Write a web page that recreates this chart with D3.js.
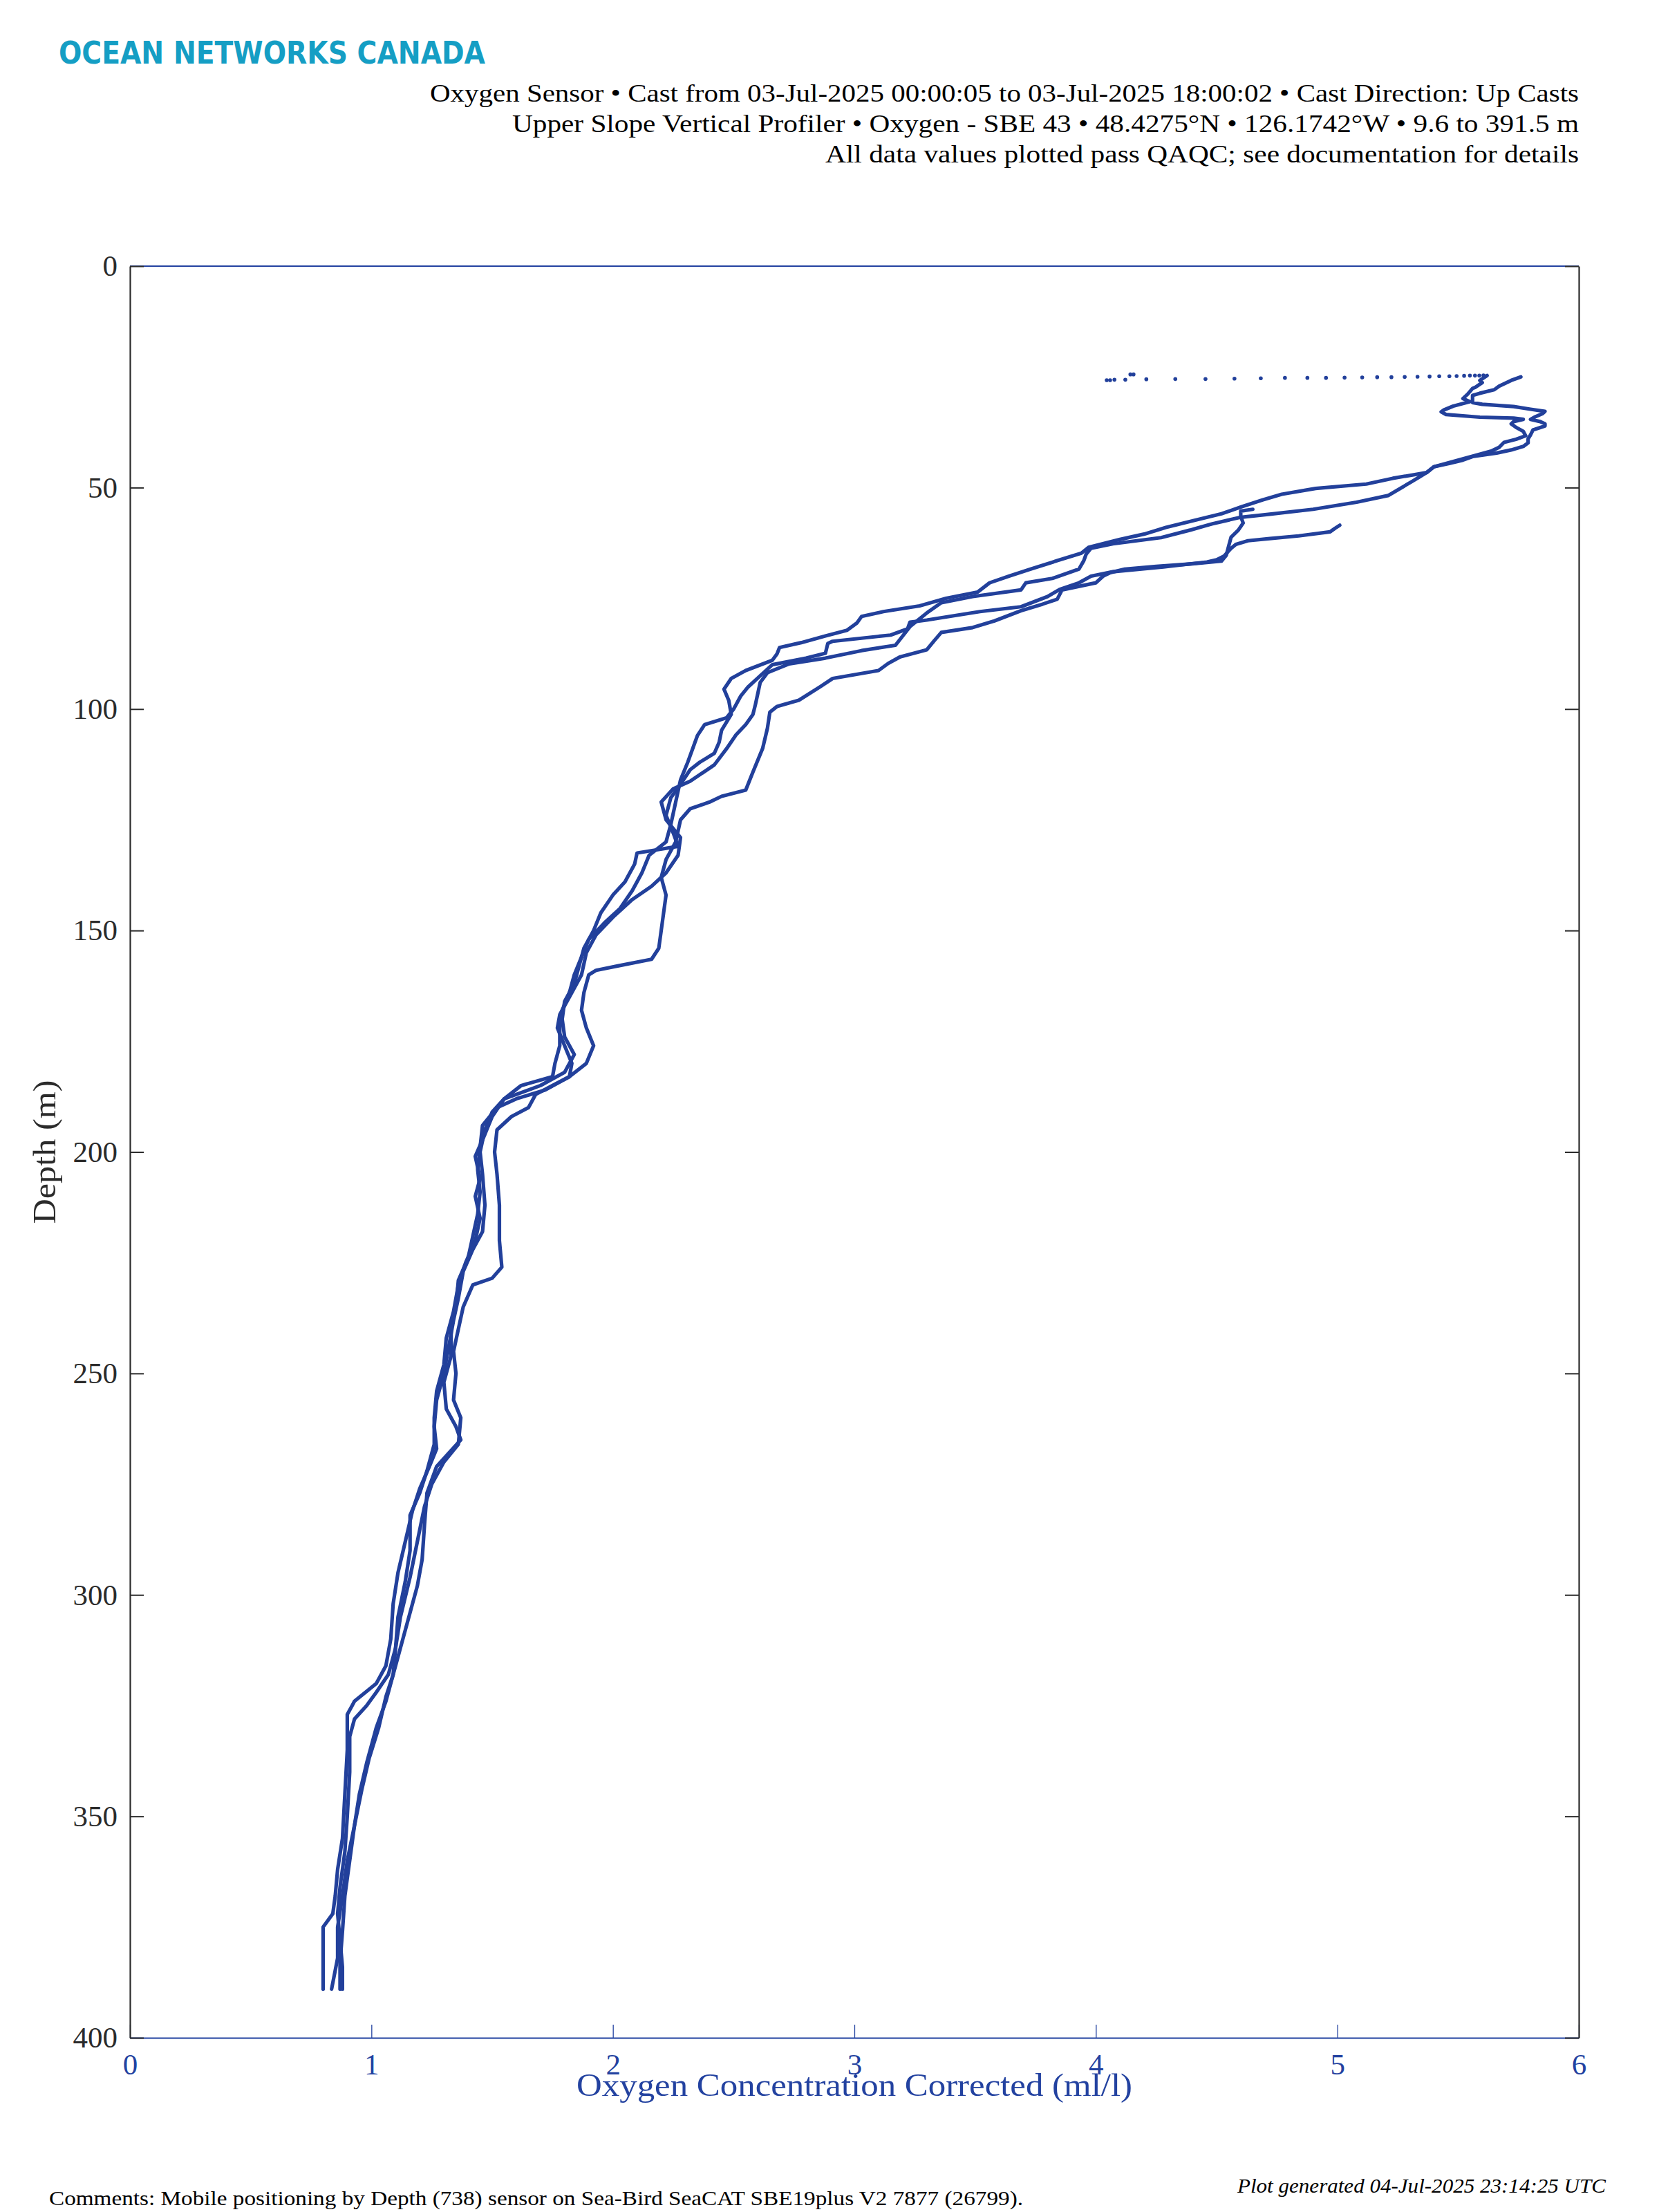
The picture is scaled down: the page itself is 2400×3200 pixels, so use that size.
<!DOCTYPE html>
<html><head><meta charset="utf-8">
<script src="https://cdn.jsdelivr.net/npm/d3@7"></script>
<style>body{margin:0;background:#fff}</style>
</head><body>
<script>
// ---------- DATA ----------
const depthTicks = [0, 50, 100, 150, 200, 250, 300, 350, 400];
const oxygenTicks = [0, 1, 2, 3, 4, 5, 6];

const titleLines = [
  "Oxygen Sensor \u2022 Cast from 03-Jul-2025 00:00:05 to 03-Jul-2025 18:00:02 \u2022 Cast Direction: Up Casts",
  "Upper Slope Vertical Profiler \u2022 Oxygen - SBE 43 \u2022 48.4275\u00B0N \u2022 126.1742\u00B0W \u2022 9.6 to 391.5 m",
  "All data values plotted pass QAQC; see documentation for details"
];

// casts: [depth (m), oxygen (ml/l)]
const cast1 = [[25.0,5.76],[25.8,5.72],[27.1,5.67],[27.9,5.65],[28.7,5.59],[29.2,5.56],[30.3,5.56],[30.8,5.56],[31.2,5.60],[31.7,5.73],[32.3,5.80],[32.8,5.86],[33.3,5.85],[34.0,5.82],[34.6,5.80],[35.1,5.84],[35.6,5.86],[36.1,5.86],[37.0,5.81],[38.1,5.80],[39.0,5.79],[39.9,5.79],[40.7,5.77],[41.5,5.72],[42.2,5.66],[43.0,5.56],[43.8,5.52],[44.6,5.46],[45.3,5.40],[46.6,5.37],[47.9,5.23],[49.2,5.12],[50.2,4.91],[51.5,4.77],[52.8,4.69],[54.4,4.60],[55.9,4.52],[57.5,4.40],[59.0,4.29],[60.5,4.20],[61.7,4.10],[63.5,3.97],[64.8,3.94],[66.5,3.84],[68.4,3.73],[70.0,3.64],[71.5,3.56],[73.6,3.51],[75.0,3.38],[76.7,3.27],[78.0,3.12],[79.1,3.03],[80.6,3.01],[82.2,2.97],[83.5,2.88],[85.0,2.78],[86.1,2.69],[87.5,2.68],[89.0,2.66],[91.3,2.55],[93.1,2.49],[95.5,2.46],[98.1,2.48],[101.2,2.49],[104.8,2.45],[107.5,2.44],[110.0,2.42],[112.0,2.36],[113.7,2.32],[117,2.28],[120,2.24],[124,2.22],[128,2.25],[131,2.27],[131.8,2.18],[132.5,2.10],[135,2.09],[139,2.05],[142,2.00],[146,1.95],[150,1.92],[154,1.88],[158,1.86],[162,1.84],[166,1.80],[170,1.79],[174,1.80],[178,1.84],[182,1.80],[185,1.70],[188,1.55],[191,1.50],[195,1.47],[200,1.45],[205,1.46],[212,1.47],[218,1.46],[222,1.42],[227,1.38],[233,1.36],[238,1.34],[244,1.32],[250,1.30],[256,1.27],[262,1.26],[267,1.27],[271,1.24],[276,1.20],[281,1.17],[288,1.14],[295,1.11],[302,1.09],[310,1.08],[316,1.06],[320,1.02],[324,0.93],[327,0.90],[335,0.90],[345,0.89],[355,0.88],[362,0.86],[368,0.85],[372,0.84],[375,0.80],[380,0.80],[389,0.80]];

const cast2 = [[24.7,5.62],[25.8,5.59],[26.3,5.60],[27.4,5.57],[27.6,5.56],[28.9,5.54],[29.9,5.52],[30.6,5.55],[31.6,5.48],[32.5,5.44],[32.9,5.43],[33.5,5.45],[34.1,5.59],[34.3,5.73],[34.6,5.77],[35.1,5.73],[35.6,5.72],[36.4,5.74],[37.3,5.77],[38.3,5.78],[39.1,5.74],[39.8,5.69],[40.9,5.67],[41.7,5.64],[42.6,5.58],[43.5,5.52],[44.4,5.46],[45.3,5.40],[46.6,5.37],[47.6,5.34],[48.6,5.31],[50.2,5.26],[51.8,5.21],[53.3,5.08],[54.9,4.90],[56.0,4.72],[56.7,4.60],[58.2,4.48],[59.6,4.39],[61.3,4.27],[62.7,4.07],[63.7,3.98],[65.0,3.96],[66.5,3.95],[68.4,3.93],[70.5,3.82],[71.5,3.71],[73.1,3.69],[74.6,3.49],[76.0,3.36],[78.3,3.30],[81.4,3.23],[85.6,3.17],[86.8,3.03],[88.5,2.88],[89.8,2.73],[91.8,2.64],[94.0,2.61],[96.5,2.60],[99.0,2.59],[101.2,2.58],[103.5,2.55],[105.8,2.51],[109.0,2.47],[112.6,2.42],[116.3,2.32],[118,2.25],[121,2.20],[125,2.22],[129,2.28],[133,2.27],[137,2.22],[140,2.16],[143,2.08],[147,2.00],[151,1.93],[155,1.89],[160,1.87],[165,1.82],[169,1.78],[172,1.77],[176,1.80],[180,1.83],[183,1.82],[186,1.72],[188,1.60],[190,1.52],[194,1.46],[199,1.45],[204,1.44],[209,1.45],[214,1.44],[219,1.42],[224,1.40],[229,1.36],[235,1.35],[240,1.33],[246,1.33],[252,1.30],[258,1.31],[262,1.35],[265,1.37],[268,1.32],[271,1.27],[277,1.23],[284,1.22],[292,1.21],[298,1.19],[304,1.16],[312,1.12],[318,1.09],[323,1.06],[330,1.03],[337,0.99],[344,0.96],[352,0.93],[360,0.90],[368,0.88],[375,0.86],[382,0.86],[389,0.835]];

const cast3 = [[54.9,4.65],[55.3,4.60],[56.5,4.60],[58.0,4.61],[59.6,4.59],[61.2,4.56],[63.2,4.55],[65.3,4.54],[66.6,4.52],[67.2,4.40],[67.8,4.25],[68.4,4.12],[69.2,4.06],[70.0,4.03],[71.5,4.00],[73.1,3.86],[75.2,3.84],[76.3,3.78],[77.8,3.69],[80.1,3.58],[81.6,3.49],[82.7,3.36],[84.6,3.33],[86.6,3.30],[88.2,3.19],[89.7,3.14],[91.3,3.10],[93.1,2.91],[94.9,2.86],[98.0,2.77],[99.4,2.68],[100.7,2.65],[104.3,2.64],[108.9,2.62],[114.2,2.58],[118.3,2.55],[119.7,2.45],[121.0,2.40],[122.5,2.32],[125,2.28],[130,2.26],[134,2.22],[138,2.20],[142,2.22],[146,2.21],[150,2.20],[154,2.19],[156.5,2.16],[158,2.02],[159,1.93],[160,1.90],[164,1.88],[168,1.87],[172,1.89],[176,1.92],[180,1.89],[183,1.82],[185,1.75],[187,1.68],[190,1.65],[192,1.58],[195,1.52],[200,1.51],[205,1.52],[212,1.53],[220,1.53],[226,1.54],[228.5,1.50],[230,1.42],[235,1.38],[240,1.36],[245,1.34],[250,1.35],[256,1.34],[260,1.37],[266,1.36],[270,1.30],[275,1.25],[280,1.22],[288,1.19],[296,1.16],[305,1.12],[312,1.10],[318,1.09],[324,1.06],[330,1.02],[338,0.98],[345,0.95],[352,0.93],[360,0.91],[368,0.89],[376,0.88],[383,0.87],[389,0.87]];

const cast4 = [[58.5,5.01],[59.2,4.99],[60.0,4.97],[60.9,4.84],[61.5,4.72],[62.0,4.63],[62.8,4.58],[63.7,4.56],[65.5,4.53],[66.3,4.50],[66.8,4.46],[67.9,4.28],[69.0,4.07],[70.0,3.98],[71.5,3.93],[73.0,3.85],[74.6,3.80],[76.9,3.69],[78.0,3.52],[79.9,3.30],[80.4,3.23],[81.9,3.22],[83.3,3.15],[84.7,2.91],[85.2,2.89],[87.4,2.88],[88.5,2.80],[90,2.66],[93,2.60],[95,2.56],[97,2.53],[100,2.50],[102,2.47],[103.5,2.38],[106,2.35],[109,2.33],[112,2.31],[116,2.28],[121,2.26],[126,2.24],[130,2.22],[133,2.15],[137,2.12],[141,2.08],[145,2.03],[148,1.97],[152,1.90],[156,1.87],[160,1.84],[164,1.82],[168,1.79],[172,1.78],[176,1.78],[180,1.76],[183,1.75],[185,1.62],[188,1.55],[192,1.50],[196,1.47],[201,1.43],[206,1.45],[210,1.43],[215,1.45],[220,1.43],[225,1.39],[230,1.36],[236,1.34],[242,1.31],[248,1.30],[254,1.27],[260,1.26],[266,1.26],[272,1.23],[277,1.20],[282,1.16],[290,1.16],[297,1.14],[305,1.11],[312,1.10],[318,1.07],[322,1.02],[325,0.98],[328,0.93],[332,0.91],[340,0.91],[350,0.90],[358,0.89],[366,0.87],[372,0.86],[378,0.87],[384,0.88],[389,0.88]];

// surface drift of cast 2 (sparse samples at ~25 m)
const driftDepth = [25.75,25.75,25.65,25.65,24.45,24.45,25.54,25.49,25.49,25.39,25.33,25.23,25.23,25.23,25.18,25.12,25.07,25.07,25.02,24.97,24.92,24.86,24.86,24.81,24.76,24.71,24.71,24.71,24.66];
const driftOxygen = [4.045,4.059,4.077,4.122,4.143,4.156,4.209,4.329,4.454,4.574,4.683,4.783,4.876,4.953,5.030,5.103,5.165,5.224,5.279,5.332,5.382,5.422,5.464,5.494,5.525,5.549,5.570,5.588,5.605];

const casts = [cast1, cast2, cast3, cast4];

// ---------- CHART ----------
const W = 2400, H = 3200;
const pLeft = 188, pRight = 2284, pTop = 385, pBottom = 2948;
const lineColor = "#22409b";
const axisBlue = "#2342a0";
const axisDark = "#2b2b2b";
const serif = "'Liberation Serif','DejaVu Serif',serif";

const svg = d3.select("body").append("svg")
  .attr("width", W).attr("height", H)
  .style("background", "#fff");

const x = d3.scaleLinear().domain([0, 6]).range([pLeft, pRight]);
const y = d3.scaleLinear().domain([0, 400]).range([pTop, pBottom]);

// logo
svg.append("text")
  .attr("x", 85).attr("y", 92)
  .attr("font-family", "'DejaVu Sans Condensed','DejaVu Sans',sans-serif")
  .attr("font-weight", "bold")
  .attr("font-size", 45)
  .attr("fill", "#159ec4")
  .attr("textLength", 617).attr("lengthAdjust", "spacingAndGlyphs")
  .text("OCEAN NETWORKS CANADA");

// titles
const titleWidths = [1662, 1543, 1090];
const titleBase = [147, 191, 235];
titleLines.forEach((t, i) => {
  svg.append("text")
    .attr("x", pRight).attr("y", titleBase[i])
    .attr("text-anchor", "end")
    .attr("font-family", serif).attr("font-size", 35)
    .attr("fill", "#000")
    .attr("textLength", titleWidths[i]).attr("lengthAdjust", "spacingAndGlyphs")
    .text(t);
});

// top axis line (blue, no ticks)
svg.append("line")
  .attr("x1", pLeft).attr("x2", pRight).attr("y1", pTop).attr("y2", pTop)
  .attr("stroke", axisBlue).attr("stroke-width", 2.2);

// bottom axis
const gx = svg.append("g").attr("transform", `translate(0,${pBottom})`)
  .call(d3.axisBottom(x).tickValues(oxygenTicks).tickFormat(d3.format("d")).tickSize(-19).tickSizeOuter(0));
gx.select(".domain").attr("stroke", axisBlue).attr("stroke-width", 2.2);
gx.selectAll(".tick line").attr("stroke", axisBlue).attr("stroke-width", 1.3);
gx.selectAll(".tick text").attr("y", 53).attr("dy", null)
  .attr("fill", axisBlue).attr("font-family", serif).attr("font-size", 43);

// data lines
const line = d3.line().x(d => x(d[1])).y(d => y(d[0]));
casts.forEach(c => {
  svg.append("path").datum(c)
    .attr("d", line)
    .attr("fill", "none")
    .attr("stroke", lineColor)
    .attr("stroke-width", 5.2)
    .attr("stroke-linejoin", "round")
    .attr("stroke-linecap", "round");
});
svg.append("g").selectAll("circle")
  .data(driftDepth.map((d, i) => [d, driftOxygen[i]]))
  .join("circle")
  .attr("cx", d => x(d[1])).attr("cy", d => y(d[0]))
  .attr("r", 2.8).attr("fill", lineColor);

// left axis
const gy = svg.append("g").attr("transform", `translate(${pLeft},0)`)
  .call(d3.axisLeft(y).tickValues(depthTicks).tickSize(-20).tickSizeOuter(0).tickPadding(18));
gy.select(".domain").attr("stroke", axisDark).attr("stroke-width", 2.2);
gy.selectAll(".tick line").attr("stroke", axisDark).attr("stroke-width", 2);
gy.selectAll(".tick text").attr("fill", axisDark).attr("font-family", serif).attr("font-size", 43);

// right axis
const gr = svg.append("g").attr("transform", `translate(${pRight},0)`)
  .call(d3.axisRight(y).tickValues(depthTicks).tickSize(-20).tickSizeOuter(0).tickFormat(""));
gr.select(".domain").attr("stroke", axisDark).attr("stroke-width", 2.2);
gr.selectAll(".tick line").attr("stroke", axisDark).attr("stroke-width", 2);

// axis labels
svg.append("text")
  .attr("transform", `translate(80,${(pTop + pBottom) / 2}) rotate(-90)`)
  .attr("text-anchor", "middle")
  .attr("font-family", serif).attr("font-size", 46).attr("fill", axisDark)
  .attr("textLength", 208).attr("lengthAdjust", "spacingAndGlyphs")
  .text("Depth (m)");

svg.append("text")
  .attr("x", (pLeft + pRight) / 2).attr("y", 3032)
  .attr("text-anchor", "middle")
  .attr("font-family", serif).attr("font-size", 46).attr("fill", axisBlue)
  .attr("textLength", 804).attr("lengthAdjust", "spacingAndGlyphs")
  .text("Oxygen Concentration Corrected (ml/l)");

// footer
svg.append("text")
  .attr("x", 71).attr("y", 3190)
  .attr("font-family", serif).attr("font-size", 30).attr("fill", "#000")
  .attr("textLength", 1409).attr("lengthAdjust", "spacingAndGlyphs")
  .text("Comments: Mobile positioning by Depth (738) sensor on Sea-Bird SeaCAT SBE19plus V2 7877 (26799).");

svg.append("text")
  .attr("x", 2323).attr("y", 3172)
  .attr("text-anchor", "end")
  .attr("font-family", serif).attr("font-style", "italic").attr("font-size", 29).attr("fill", "#000")
  .attr("textLength", 533).attr("lengthAdjust", "spacingAndGlyphs")
  .text("Plot generated 04-Jul-2025 23:14:25 UTC");
</script>
</body></html>
